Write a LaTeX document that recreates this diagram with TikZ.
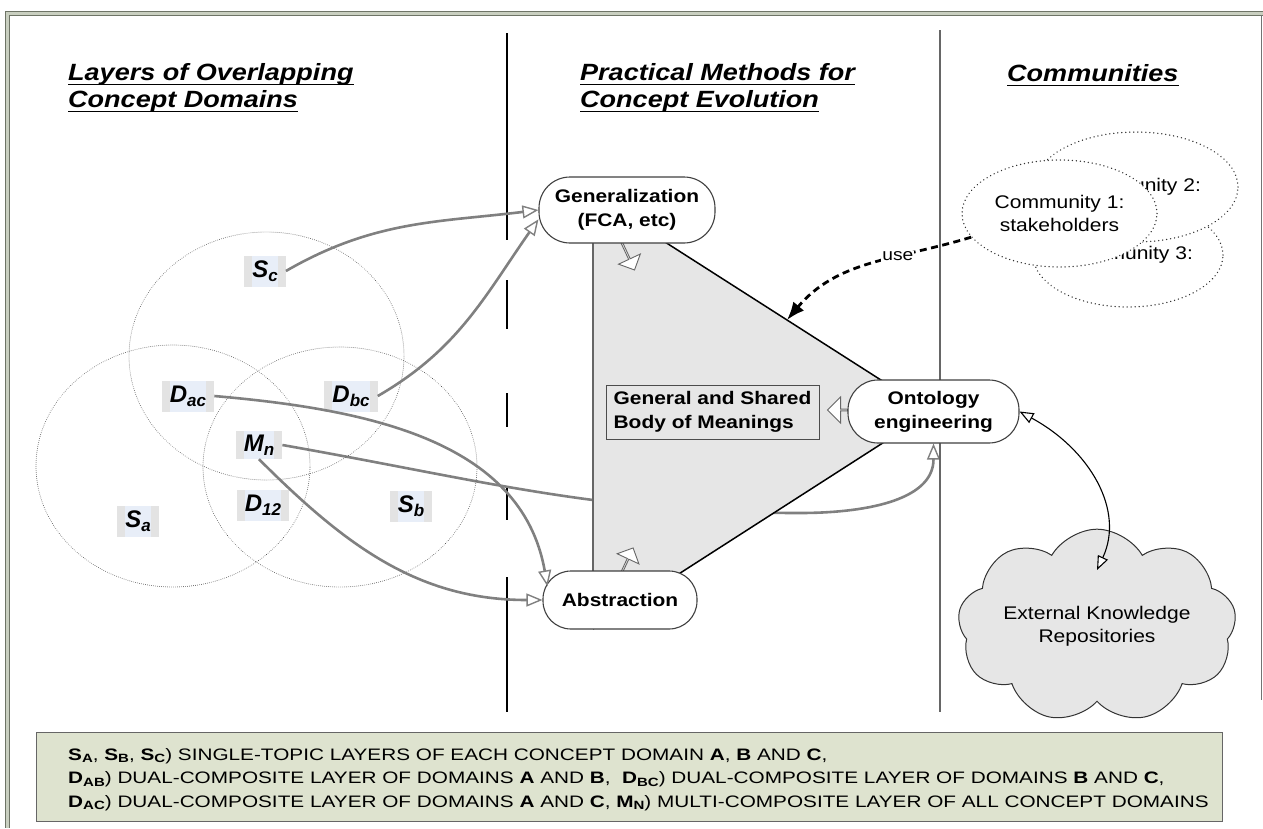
\documentclass[tikz,border=0pt]{standalone}
\usepackage{fontspec}
\setmainfont{Liberation Sans}[FakeStretch=1.15]
\newfontfamily\legendfont{Liberation Sans}[FakeStretch=1.25]
\newfontfamily\labelfont{Liberation Sans}
\usetikzlibrary{shapes.geometric,shapes.symbols,shapes.arrows,arrows.meta,calc}
\pgfdeclarelayer{background}
\pgfsetlayers{background,main}
\definecolor{conncol}{HTML}{808080}
\definecolor{trifill}{HTML}{E6E6E6}
\definecolor{lblgray}{HTML}{E3E3E3}
\definecolor{lblblue}{HTML}{E8EEF8}
\definecolor{legfill}{HTML}{DEE3CF}
\definecolor{framedark}{HTML}{6E7466}
\definecolor{framelight}{HTML}{C9CFC0}
\newcommand{\vlab}[2]{{\labelfont\fontsize{24}{24}\selectfont\bfseries\itshape #1\raisebox{-4pt}{\fontsize{17}{17}\selectfont #2}}}
\newcommand{\lsub}[1]{\raisebox{-2.5pt}{\fontsize{12}{12}\selectfont\bfseries #1}}
\begin{document}
\begin{tikzpicture}[x=1pt,y=-1pt,
  box/.style={draw=black!75, line width=1.1pt, fill=white, rounded corners=29pt, align=center, inner sep=0pt, font=\fontsize{18.2}{24}\selectfont\bfseries},
  conn/.style={draw=conncol, line width=2.6pt, -{Triangle[length=16pt,width=13pt,fill=white,line width=1.4pt]}},
  usearrow/.style={draw=black, line width=2.8pt, dash pattern=on 7pt off 4.5pt, -{Latex[length=18pt,width=14pt]}},
  biarrow/.style={draw=black, line width=1.1pt, {Triangle[length=14pt,width=11pt,fill=white]}-{Triangle[length=14pt,width=11pt,fill=white]}},
  blockarrow/.style={single arrow, draw=black!60, fill=white, line width=0.9pt, inner sep=0pt, single arrow head extend=6pt},
  venn/.style={draw=black!65, line width=0.9pt, dash pattern=on 0.01pt off 2pt, line cap=round},
  comm/.style={ellipse, draw=black!80, fill=white, line width=1.5pt, dash pattern=on 0.01pt off 4pt, line cap=round, inner sep=0pt, align=center, font=\fontsize{18.3}{23}\selectfont},
  vlabel/.style={fill=lblgray, inner xsep=8pt, inner ysep=0pt, minimum height=31pt,
    path picture={\fill[lblblue] ([xshift=8pt]path picture bounding box.south west) rectangle ([xshift=-8pt]path picture bounding box.north east);}},
  heading/.style={font=\fontsize{23.5}{28}\selectfont\bfseries\itshape, inner sep=0pt, anchor=base west},
  divider/.style={draw=black, line width=1.1pt}
]
\useasboundingbox (0,0) rectangle (1263,828);
\clip (0,0) rectangle (1263,828);

% outer frame
\draw[framelight, line width=4pt] (1263,13) -- (7,13) -- (7,828);
\draw[framedark, line width=0.9pt] (1263,11) -- (5,11) -- (5,828);
\draw[framedark, line width=0.9pt] (1263,15.5) -- (9.5,15.5) -- (9.5,828);
\draw[black!55, line width=0.9pt] (1261.5,15) -- (1261.5,700);

% headings
\node[heading] (h1a) at (68,80) {Layers of Overlapping};
\node[heading] (h1b) at (68,107) {Concept Domains};
\node[heading] (h2a) at (580,80) {Practical Methods for};
\node[heading] (h2b) at (580,107) {Concept Evolution};
\node[heading] (h3) at (1007,81) {Communities};
\foreach \n in {h1a,h1b,h2a,h2b,h3}
  \draw[line width=1.8pt] ([yshift=-4.5pt]\n.base west) -- ([yshift=-4.5pt]\n.base east);

% dividers
\draw[divider] (507,33) -- (507,240);
\foreach \a/\b in {280/329,393/427,488/520,577/712}
  \draw[divider] (507,\a) -- (507,\b);
\draw[line width=1.2pt, draw=black!60] (940,30) -- (940,712);

% venn ellipses
\draw[venn] (266.5,356) ellipse [x radius=137.5pt, y radius=124pt];
\draw[venn] (173,466) ellipse [x radius=137pt, y radius=121pt];
\draw[venn] (340,467) ellipse [x radius=137pt, y radius=120pt];

% layer labels
\node[vlabel] (sc) at (265,271) {\vlab{S}{c}};
\node[vlabel] (dac) at (188,396) {\vlab{D}{ac}};
\node[vlabel] (dbc) at (351,396) {\vlab{D}{bc}};
\node[vlabel, minimum height=28pt] (mn) at (259,445) {\vlab{M}{n}};
\node[vlabel] (d12) at (263,505) {\vlab{D}{12}};
\node[vlabel] (sb) at (411,506) {\vlab{S}{b}};
\node[vlabel] (sa) at (138,521) {\vlab{S}{a}};

% method boxes
\node[box, minimum width=176pt, minimum height=66pt, rounded corners=31pt] (gen) at (627,210) {Generalization\\(FCA, etc)};
\node[box, minimum width=154pt, minimum height=58pt, rounded corners=28pt] (abs) at (620,600) {Abstraction};
\node[box, minimum width=171pt, minimum height=63pt, rounded corners=30pt] (onto) at (933.5,411.5) {Ontology\\engineering};

% triangle and its contents (behind the boxes)
\coordinate (T1) at (593,196);
\coordinate (T2) at (593,629);
\coordinate (T3) at (931,412);
\coordinate (via) at (800,513);
\begin{pgfonlayer}{background}
  \draw[conn] (mn.east) to[out=-10,in=180] (via) to[out=0,in=-90] (onto.south);
  \fill[trifill] (T1) -- (T3) -- (T2) -- cycle;
  \draw[black, line width=1.5pt] (T1) -- (T3) -- (T2);
  \draw[black!60, line width=1.5pt] (T1) -- (T2);
  \node[draw=black!70, line width=0.9pt, align=left, minimum width=213pt, minimum height=54pt, inner sep=0pt,
        font=\fontsize{18.2}{24}\selectfont\bfseries] (gsb) at (712.5,412) {General and Shared\\Body of Meanings};
  \node[blockarrow, minimum height=30pt, minimum width=24pt, rotate=-65] (ga) at (628,256) {};
  \node[blockarrow, minimum height=28pt, minimum width=24pt, rotate=65] (aa) at (627,561) {};
  \node[blockarrow, minimum height=20pt, minimum width=26pt, rotate=180] (oa) at (838,410) {};
\end{pgfonlayer}

% connectors from layers
\draw[conn] (sc.east) to[out=30,in=187] (gen.west);
\draw[conn] (dbc.east) to[out=30,in=235] (gen.186);
\draw[conn] (dac.east) to[out=-5,in=100] ([xshift=5pt]abs.170);
\draw[conn] (mn.south) to[out=-45,in=180] (abs.west);

% communities
\node[comm, minimum width=190pt, minimum height=104pt] (c3) at (1128,255) {Community 3:};
\node[comm, minimum width=204pt, minimum height=110pt] (c2) at (1136,187) {Community 2:};
\node[comm, minimum width=195pt, minimum height=107pt] (c1) at (1059.5,213.5) {Community 1:\\stakeholders};

% use arrow
\coordinate (usepoint) at ($(T1)!0.574!(T3)$);
\draw[usearrow] (c1.195) to[out=197,in=50] node[pos=0.35, fill=white, inner sep=1pt, font=\fontsize{16.7}{18}\selectfont] (uselbl) {use} (usepoint);

% external repositories
\node[cloud, cloud puffs=9, cloud puff arc=120, aspect=1.76, draw=black!80, line width=1pt, fill=trifill,
      minimum width=260pt, minimum height=148pt, align=center, inner sep=0pt,
      font=\fontsize{18.3}{23}\selectfont] (ekr) at (1097,626) {External Knowledge\\Repositories};
\coordinate (ekrtop) at ($(ekr.center)+(0,-56)$);
\draw[biarrow] (onto.east) .. controls +(70,38) and +(28,-60) .. (ekrtop);

% legend
\node[draw=black!60, fill=legfill, line width=1pt, minimum width=1186pt, minimum height=89pt, anchor=north west, inner sep=0pt] (legend) at (36,732) {};
\node[anchor=north west, align=left, inner sep=0pt, font=\legendfont\fontsize{16.6}{23.5}\selectfont] (legtext) at (68,748)
 {\textbf{S}\lsub{A}, \textbf{S}\lsub{B}, \textbf{S}\lsub{C}) SINGLE-TOPIC LAYERS OF EACH CONCEPT DOMAIN \textbf{A}, \textbf{B} AND \textbf{C},\\
  \textbf{D}\lsub{AB}) DUAL-COMPOSITE LAYER OF DOMAINS \textbf{A} AND \textbf{B}, \ \textbf{D}\lsub{BC}) DUAL-COMPOSITE LAYER OF DOMAINS \textbf{B} AND \textbf{C},\\
  \textbf{D}\lsub{AC}) DUAL-COMPOSITE LAYER OF DOMAINS \textbf{A} AND \textbf{C}, \textbf{M}\lsub{N}) MULTI-COMPOSITE LAYER OF ALL CONCEPT DOMAINS};
\end{tikzpicture}
\end{document}
